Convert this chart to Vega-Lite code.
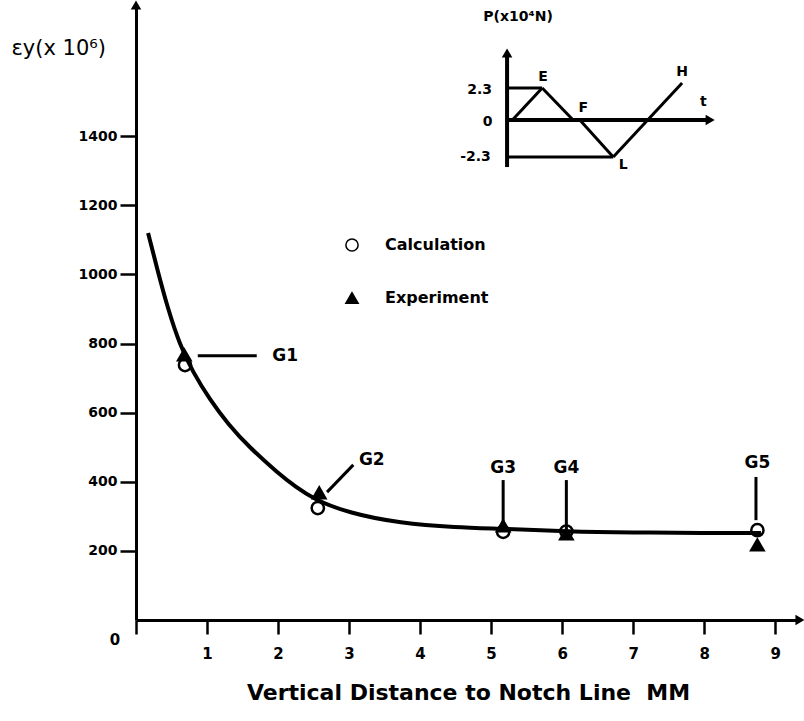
{
  "$schema": "https://vega.github.io/schema/vega-lite/v6.json",
  "width": 664,
  "height": 615,
  "autosize": {"type": "none"},
  "padding": {"left": 136, "top": 5, "right": 4, "bottom": 101},
  "background": "white",
  "config": {
    "view": {"stroke": null},
    "font": "DejaVu Sans",
    "axis": {"grid": false}
  },
  "datasets": {
    "curve": [
      {"x": 0.17, "y": 1120}, {"x": 0.3, "y": 1015}, {"x": 0.45, "y": 900},
      {"x": 0.62, "y": 795}, {"x": 0.8, "y": 718}, {"x": 1.04, "y": 638},
      {"x": 1.3, "y": 566}, {"x": 1.6, "y": 499}, {"x": 2.0, "y": 425},
      {"x": 2.25, "y": 385}, {"x": 2.5, "y": 350}, {"x": 3.0, "y": 309},
      {"x": 3.72, "y": 280}, {"x": 4.5, "y": 268}, {"x": 5.17, "y": 264},
      {"x": 6.06, "y": 256}, {"x": 7.0, "y": 253}, {"x": 8.0, "y": 252},
      {"x": 8.8, "y": 252}
    ],
    "points": [
      {"x": 0.69, "y": 738, "series": "Calculation"},
      {"x": 2.56, "y": 324, "series": "Calculation"},
      {"x": 5.17, "y": 255, "series": "Calculation"},
      {"x": 6.06, "y": 256, "series": "Calculation"},
      {"x": 8.75, "y": 260, "series": "Calculation"},
      {"x": 0.68, "y": 767, "series": "Experiment"},
      {"x": 2.58, "y": 368, "series": "Experiment"},
      {"x": 5.17, "y": 272, "series": "Experiment"},
      {"x": 6.06, "y": 249, "series": "Experiment"},
      {"x": 8.75, "y": 217, "series": "Experiment"}
    ],
    "leaders": [
      {"x": 0.87, "y": 765, "x2": 1.7, "y2": 765},
      {"x": 2.69, "y": 370, "x2": 3.06, "y2": 449},
      {"x": 5.17, "y": 405, "x2": 5.17, "y2": 284},
      {"x": 6.06, "y": 405, "x2": 6.06, "y2": 260},
      {"x": 8.73, "y": 414, "x2": 8.73, "y2": 289}
    ],
    "glabels": [
      {"x": 2.1, "y": 764, "label": "G1"},
      {"x": 3.32, "y": 463, "label": "G2"},
      {"x": 5.17, "y": 440, "label": "G3"},
      {"x": 6.06, "y": 440, "label": "G4"},
      {"x": 8.75, "y": 454, "label": "G5"}
    ],
    "insetAxes": [
      {"x": 5.225, "y": 1311, "x2": 5.225, "y2": 1641},
      {"x": 5.225, "y": 1447, "x2": 8.085, "y2": 1447}
    ],
    "insetLines": [
      {"x": 5.225, "y": 1540, "x2": 5.72, "y2": 1540},
      {"x": 5.225, "y": 1340, "x2": 6.72, "y2": 1340},
      {"x": 5.3, "y": 1447, "x2": 5.72, "y2": 1540},
      {"x": 5.72, "y": 1540, "x2": 6.155, "y2": 1447},
      {"x": 6.25, "y": 1447, "x2": 6.72, "y2": 1340},
      {"x": 6.72, "y": 1340, "x2": 7.69, "y2": 1554}
    ],
    "insetText": [
      {"x": 5.73, "y": 1572, "label": "E"},
      {"x": 6.3, "y": 1482, "label": "F"},
      {"x": 7.69, "y": 1586, "label": "H"},
      {"x": 6.86, "y": 1317, "label": "L"},
      {"x": 7.99, "y": 1499, "label": "t"},
      {"x": 4.84, "y": 1534, "label": "2.3"},
      {"x": 4.95, "y": 1441, "label": "0"},
      {"x": 4.78, "y": 1340, "label": "-2.3"},
      {"x": 5.38, "y": 1745, "label": "P(x10⁴N)"}
    ],
    "arrowsRight": [
      {"x": 9.35, "y": 0},
      {"x": 8.085, "y": 1447}
    ],
    "arrowsUp": [
      {"x": 0, "y": 1780},
      {"x": 5.225, "y": 1641}
    ],
    "origin": [{"x": 0, "y": 0, "label": "0"}]
  },
  "layer": [
    {
      "data": {"name": "curve"},
      "mark": {"type": "line", "color": "black", "strokeWidth": 4, "interpolate": "basis"},
      "encoding": {
        "x": {
          "field": "x", "type": "quantitative",
          "scale": {"domain": [0, 9.35], "nice": false, "zero": false},
          "axis": {
            "values": [0, 1, 2, 3, 4, 5, 6, 7, 8, 9],
            "format": "d",
            "labelExpr": "datum.value == 0 ? '' : datum.label",
            "title": "Vertical Distance to Notch Line\u00a0\u00a0MM",
            "titleFontSize": 22,
            "titleFontWeight": "bold",
            "titleColor": "black",
            "titleY": 72,
            "titleBaseline": "middle",
            "domainColor": "black",
            "domainWidth": 3,
            "tickColor": "black",
            "tickWidth": 2.5,
            "tickSize": 14,
            "labelFontSize": 15,
            "labelFontWeight": "bold",
            "labelColor": "black",
            "labelPadding": 12
          }
        },
        "y": {
          "field": "y", "type": "quantitative",
          "scale": {"domain": [0, 1780], "nice": false, "zero": false},
          "axis": {
            "values": [200, 400, 600, 800, 1000, 1200, 1400],
            "format": "d",
            "title": "εy(x 10⁶)",
            "titleAngle": 0,
            "titleAlign": "left",
            "titleBaseline": "middle",
            "titleX": -125,
            "titleY": 43,
            "titleFontSize": 21,
            "titleFontWeight": "normal",
            "titleColor": "black",
            "domainColor": "black",
            "domainWidth": 3,
            "tickColor": "black",
            "tickWidth": 2.5,
            "tickSize": 16,
            "labelFontSize": 14,
            "labelFontWeight": "bold",
            "labelColor": "black",
            "labelPadding": 3
          }
        }
      }
    },
    {
      "data": {"name": "leaders"},
      "mark": {"type": "rule", "color": "black", "strokeWidth": 3},
      "encoding": {
        "x": {"field": "x", "type": "quantitative"},
        "y": {"field": "y", "type": "quantitative"},
        "x2": {"field": "x2"},
        "y2": {"field": "y2"}
      }
    },
    {
      "data": {"name": "points"},
      "mark": {"type": "point", "filled": true, "stroke": "black", "strokeWidth": 2.5, "size": 150, "opacity": 1},
      "encoding": {
        "x": {"field": "x", "type": "quantitative"},
        "y": {"field": "y", "type": "quantitative"},
        "shape": {
          "field": "series", "type": "nominal",
          "scale": {"domain": ["Calculation", "Experiment"], "range": ["circle", "triangle-up"]},
          "legend": {
            "orient": "none", "legendX": 208, "legendY": 232, "title": null,
            "labelFontSize": 16, "labelFontWeight": "bold", "labelColor": "black",
            "symbolSize": 150, "rowPadding": 34, "labelOffset": 25,
            "encode": {"symbols": {"update": {"stroke": {"value": "black"}, "strokeWidth": {"value": 2.5}}}}
          }
        },
        "fill": {
          "field": "series", "type": "nominal",
          "scale": {"domain": ["Calculation", "Experiment"], "range": ["transparent", "black"]},
          "legend": {
            "orient": "none", "legendX": 208, "legendY": 232, "title": null,
            "labelFontSize": 16, "labelFontWeight": "bold", "labelColor": "black",
            "symbolSize": 150, "rowPadding": 34, "labelOffset": 25,
            "encode": {"symbols": {"update": {"stroke": {"value": "black"}, "strokeWidth": {"value": 2.5}}}}
          }
        }
      }
    },
    {
      "data": {"name": "glabels"},
      "mark": {"type": "text", "fontSize": 17, "fontWeight": "bold", "color": "black", "align": "center", "baseline": "middle"},
      "encoding": {
        "x": {"field": "x", "type": "quantitative"},
        "y": {"field": "y", "type": "quantitative"},
        "text": {"field": "label"}
      }
    },
    {
      "data": {"name": "insetAxes"},
      "mark": {"type": "rule", "color": "black", "strokeWidth": 4},
      "encoding": {
        "x": {"field": "x", "type": "quantitative"},
        "y": {"field": "y", "type": "quantitative"},
        "x2": {"field": "x2"},
        "y2": {"field": "y2"}
      }
    },
    {
      "data": {"name": "insetLines"},
      "mark": {"type": "rule", "color": "black", "strokeWidth": 3},
      "encoding": {
        "x": {"field": "x", "type": "quantitative"},
        "y": {"field": "y", "type": "quantitative"},
        "x2": {"field": "x2"},
        "y2": {"field": "y2"}
      }
    },
    {
      "data": {"name": "insetText"},
      "mark": {"type": "text", "fontSize": 14, "fontWeight": "bold", "color": "black", "align": "center", "baseline": "middle"},
      "encoding": {
        "x": {"field": "x", "type": "quantitative"},
        "y": {"field": "y", "type": "quantitative"},
        "text": {"field": "label"}
      }
    },
    {
      "data": {"name": "arrowsRight"},
      "mark": {"type": "point", "shape": "triangle-right", "filled": true, "color": "black", "size": 110, "opacity": 1},
      "encoding": {
        "x": {"field": "x", "type": "quantitative"},
        "y": {"field": "y", "type": "quantitative"}
      }
    },
    {
      "data": {"name": "arrowsUp"},
      "mark": {"type": "point", "shape": "triangle-up", "filled": true, "color": "black", "size": 110, "opacity": 1},
      "encoding": {
        "x": {"field": "x", "type": "quantitative"},
        "y": {"field": "y", "type": "quantitative"}
      }
    },
    {
      "data": {"name": "origin"},
      "mark": {"type": "text", "fontSize": 15, "fontWeight": "bold", "color": "black", "dx": -21, "dy": 20},
      "encoding": {
        "x": {"field": "x", "type": "quantitative"},
        "y": {"field": "y", "type": "quantitative"},
        "text": {"field": "label"}
      }
    }
  ]
}
